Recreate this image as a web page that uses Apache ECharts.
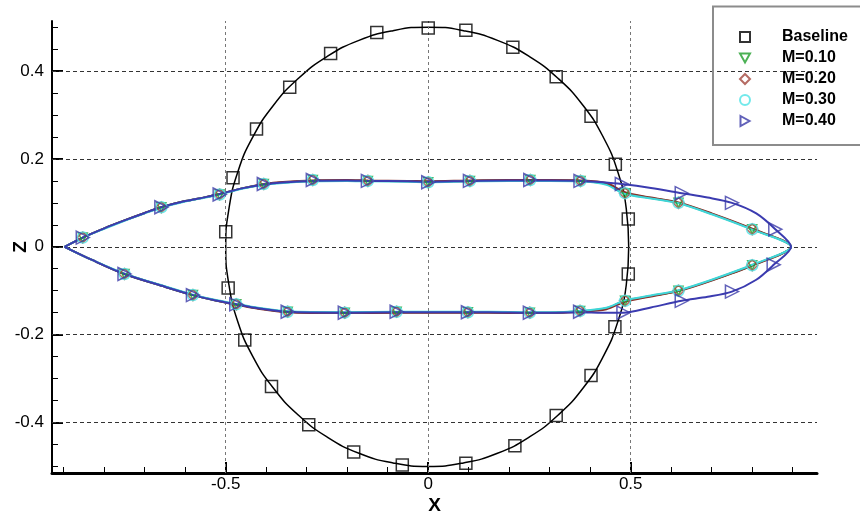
<!DOCTYPE html>
<html><head><meta charset="utf-8">
<script src="https://cdn.jsdelivr.net/npm/echarts@6/dist/echarts.min.js"></script>
<style>html,body{margin:0;padding:0;background:#fff}#c{width:860px;height:513px}</style>
</head><body><div id="c"></div>
<script>
// ---------- data ----------
const seriesNames = ['Baseline', 'M=0.10', 'M=0.20', 'M=0.30', 'M=0.40'];
const xTickLabels = [-0.5, 0, 0.5];
const zTickLabels = [-0.4, -0.2, 0, 0.2, 0.4];
const xMinorTicks = [-0.9,-0.8,-0.7,-0.6,-0.4,-0.3,-0.2,-0.1,0.1,0.2,0.3,0.4,0.6,0.7,0.8,0.9];
const zMinorTicks = [-0.5,-0.45,-0.35,-0.3,-0.25,-0.15,-0.1,-0.05,0.05,0.1,0.15,0.25,0.3,0.35,0.45,0.5];

const baselineCurve = [
  [0.495,0],[0.489,0.087],[0.468,0.171],[0.432,0.25],[0.383,0.321],[0.321,0.383],[0.25,0.433],[0.171,0.470],[0.087,0.492],
  [0,0.5],[-0.087,0.492],[-0.171,0.470],[-0.25,0.433],[-0.321,0.383],[-0.383,0.321],[-0.433,0.25],[-0.470,0.171],[-0.492,0.087],
  [-0.5,0],[-0.492,-0.087],[-0.470,-0.171],[-0.433,-0.25],[-0.383,-0.321],[-0.321,-0.383],[-0.25,-0.433],[-0.171,-0.470],[-0.087,-0.492],
  [0,-0.5],[0.087,-0.492],[0.171,-0.470],[0.25,-0.433],[0.321,-0.383],[0.383,-0.321],[0.432,-0.25],[0.468,-0.171],[0.489,-0.087],[0.495,0]
];
const baselineMarkers = [
  [0,0.498],[0.093,0.493],[0.209,0.454],[0.316,0.387],[0.402,0.297],[0.462,0.188],[0.494,0.063],[0.494,-0.062],
  [0.461,-0.182],[0.402,-0.293],[0.316,-0.384],[0.214,-0.453],[0.093,-0.493],[-0.064,-0.497],[-0.184,-0.467],
  [-0.295,-0.405],[-0.387,-0.318],[-0.453,-0.212],[-0.494,-0.094],[-0.5,0.034],[-0.482,0.157],[-0.424,0.268],
  [-0.342,0.363],[-0.241,0.440],[-0.127,0.488]
];
const m10Curve = [
  [-0.898,0],[-0.853,0.021],[-0.8,0.042],[-0.75,0.060],[-0.7,0.077],[-0.659,0.090],[-0.6,0.104],[-0.55,0.113],[-0.515,0.120],
  [-0.46,0.133],[-0.406,0.142],[-0.35,0.147],[-0.285,0.150],[-0.2,0.151],[-0.149,0.150],[-0.05,0.149],[0,0.148],[0.103,0.150],
  [0.2,0.151],[0.252,0.151],[0.3,0.151],[0.376,0.150],[0.44,0.143],[0.486,0.122],[0.55,0.111],[0.618,0.100],[0.7,0.075],
  [0.8,0.040],[0.896,0],
  [0.8,-0.042],[0.7,-0.076],[0.618,-0.100],[0.55,-0.112],[0.486,-0.123],[0.44,-0.140],[0.375,-0.147],[0.3,-0.150],[0.251,-0.150],
  [0.15,-0.149],[0.098,-0.149],[0,-0.149],[-0.078,-0.149],[-0.206,-0.150],[-0.347,-0.148],[-0.42,-0.140],[-0.474,-0.131],
  [-0.53,-0.121],[-0.581,-0.110],[-0.65,-0.091],[-0.75,-0.062],[-0.83,-0.030],[-0.898,0]
];
const m20Curve = [
  [-0.898,0],[-0.853,0.021],[-0.8,0.042],[-0.75,0.060],[-0.7,0.077],[-0.659,0.090],[-0.6,0.104],[-0.55,0.113],[-0.515,0.120],
  [-0.46,0.133],[-0.406,0.143],[-0.35,0.148],[-0.285,0.151],[-0.2,0.152],[-0.149,0.151],[-0.05,0.150],[0,0.149],[0.103,0.151],
  [0.2,0.152],[0.252,0.152],[0.3,0.152],[0.376,0.151],[0.44,0.145],[0.486,0.124],[0.55,0.112],[0.618,0.101],[0.7,0.076],
  [0.8,0.041],[0.896,0],
  [0.8,-0.043],[0.7,-0.077],[0.618,-0.101],[0.55,-0.113],[0.486,-0.125],[0.44,-0.142],[0.375,-0.148],[0.3,-0.151],[0.251,-0.151],
  [0.15,-0.150],[0.098,-0.150],[0,-0.150],[-0.078,-0.150],[-0.206,-0.151],[-0.347,-0.149],[-0.42,-0.141],[-0.474,-0.132],
  [-0.53,-0.121],[-0.581,-0.110],[-0.65,-0.091],[-0.75,-0.062],[-0.83,-0.030],[-0.898,0]
];
const m30Curve = [
  [-0.898,0],[-0.853,0.021],[-0.8,0.041],[-0.75,0.059],[-0.7,0.076],[-0.659,0.089],[-0.6,0.103],[-0.55,0.112],[-0.515,0.119],
  [-0.46,0.132],[-0.406,0.141],[-0.35,0.146],[-0.285,0.149],[-0.2,0.150],[-0.149,0.149],[-0.05,0.148],[0,0.147],[0.103,0.149],
  [0.2,0.150],[0.252,0.150],[0.3,0.150],[0.376,0.149],[0.44,0.141],[0.486,0.120],[0.55,0.110],[0.618,0.099],[0.7,0.074],
  [0.8,0.039],[0.896,0],
  [0.8,-0.041],[0.7,-0.075],[0.618,-0.099],[0.55,-0.111],[0.486,-0.122],[0.44,-0.139],[0.375,-0.146],[0.3,-0.149],[0.251,-0.149],
  [0.15,-0.148],[0.098,-0.148],[0,-0.148],[-0.078,-0.148],[-0.206,-0.149],[-0.347,-0.147],[-0.42,-0.139],[-0.474,-0.130],
  [-0.53,-0.120],[-0.581,-0.109],[-0.65,-0.090],[-0.75,-0.061],[-0.83,-0.030],[-0.898,0]
];
const m40Curve = [
  [-0.898,0],[-0.853,0.021],[-0.8,0.042],[-0.75,0.060],[-0.7,0.077],[-0.659,0.090],[-0.6,0.104],[-0.55,0.113],[-0.515,0.120],
  [-0.46,0.133],[-0.406,0.142],[-0.35,0.147],[-0.285,0.150],[-0.2,0.151],[-0.149,0.150],[-0.05,0.149],[0,0.148],[0.103,0.150],
  [0.2,0.151],[0.252,0.151],[0.3,0.151],[0.376,0.150],[0.43,0.147],[0.478,0.143],[0.55,0.134],[0.626,0.122],[0.69,0.112],
  [0.75,0.100],[0.81,0.076],[0.857,0.040],[0.896,0],
  [0.853,-0.041],[0.81,-0.075],[0.75,-0.102],[0.69,-0.114],[0.626,-0.123],[0.55,-0.138],[0.482,-0.150],[0.43,-0.150],
  [0.375,-0.149],[0.3,-0.150],[0.251,-0.150],[0.15,-0.149],[0.098,-0.149],[0,-0.149],[-0.078,-0.149],[-0.206,-0.150],
  [-0.347,-0.148],[-0.42,-0.140],[-0.474,-0.131],[-0.53,-0.121],[-0.581,-0.110],[-0.65,-0.091],[-0.75,-0.062],[-0.83,-0.030],[-0.898,0]
];
const commonMarkers = [
  [-0.853,0.021],[-0.659,0.090],[-0.515,0.119],[-0.406,0.143],[-0.285,0.152],[-0.149,0.150],[0,0.147],[0.103,0.150],
  [0.252,0.152],[0.376,0.150],[0.486,0.122],[0.618,0.100],[0.8,0.040],
  [-0.75,-0.062],[-0.581,-0.110],[-0.474,-0.131],[-0.347,-0.148],[-0.206,-0.150],[-0.078,-0.148],[0.098,-0.149],
  [0.251,-0.150],[0.375,-0.146],[0.486,-0.123],[0.618,-0.100],[0.8,-0.042]
];
const m40Markers = [
  [-0.853,0.021],[-0.659,0.090],[-0.515,0.119],[-0.406,0.143],[-0.285,0.152],[-0.149,0.150],[0,0.147],[0.103,0.150],
  [0.252,0.152],[0.376,0.150],[0.478,0.143],[0.626,0.122],[0.75,0.100],[0.857,0.040],
  [-0.75,-0.062],[-0.581,-0.110],[-0.474,-0.131],[-0.347,-0.148],[-0.206,-0.150],[-0.078,-0.148],[0.098,-0.149],
  [0.251,-0.150],[0.375,-0.148],[0.482,-0.150],[0.626,-0.123],[0.75,-0.102],[0.853,-0.041]
];

// ---------- styling ----------
const colors = ['#000000', '#1f9e2a', '#a3463c', '#4fe3e6', '#3a3aa8'];
const lineColors = ['#000000', '#1c8a26', '#8a2f28', '#3fd6d9', '#3b3bb0'];
const symbols = ['rect', 'path://M0,0L10,0L5,9Z', 'diamond', 'circle', 'path://M0,0L9,5L0,10Z'];
const symbolSizes = [12, 9, 11, 11, 13];
const curves = [baselineCurve, m10Curve, m20Curve, m30Curve, m40Curve];
const markerSets = [baselineMarkers, commonMarkers, commonMarkers, commonMarkers, m40Markers];

const XMIN = -0.929, XMAX = 0.96, ZMIN = -0.515, ZMAX = 0.514;
const labelFont = "'Liberation Sans Narrow','Liberation Sans',Arial,sans-serif";
const boldFont = "'Liberation Sans',Arial,sans-serif";

const series = [];
series.push({
  type: 'line', name: '_grid', data: [], z: 1, silent: true,
  markLine: {
    silent: true, symbol: ['none', 'none'], label: { show: false }, animation: false,
    lineStyle: { color: '#555', width: 1, type: [4, 3] },
    data: xTickLabels.map(v => ({ xAxis: v, lineStyle: { color: '#777', width: 1, type: [3, 3] } }))
      .concat(zTickLabels.map(v => ({ yAxis: v, lineStyle: { color: '#333', width: 1, type: [4, 3] } })))
  }
});
curves.forEach((c, i) => {
  series.push({
    type: 'line', name: seriesNames[i] + ' curve', data: c, smooth: i === 0 ? true : 0.3,
    showSymbol: false, silent: true, z: 2 + i,
    lineStyle: { color: lineColors[i], width: i === 0 ? 1.5 : 2 }
  });
});
markerSets.forEach((m, i) => {
  series.push({
    type: 'scatter', name: seriesNames[i], data: m, symbol: symbols[i], symbolSize: symbolSizes[i],
    silent: true, z: 10 + i,
    itemStyle: { color: 'rgba(255,255,255,0)', borderColor: colors[i], borderWidth: 1.5 }
  });
});

const chart = echarts.init(document.getElementById('c'), null, { renderer: 'canvas' });
chart.setOption({
  animation: false,
  backgroundColor: '#fff',
  grid: { left: 52, right: 43, top: 21, bottom: 40, containLabel: false, outerBoundsMode: 'none' },
  xAxis: [{
    type: 'value', min: XMIN, max: XMAX, position: 'bottom',
    name: 'X', nameLocation: 'middle', nameGap: 23, nameMoveOverlap: false,
    nameTextStyle: { fontFamily: boldFont, fontWeight: 'bold', fontSize: 19, color: '#000' },
    axisLine: { show: true, onZero: false, lineStyle: { color: '#000', width: 3 } },
    axisTick: { show: true, inside: true, length: 11, lineStyle: { color: '#000', width: 2 }, customValues: xTickLabels },
    axisLabel: { customValues: xTickLabels, fontFamily: labelFont, fontSize: 17, color: '#000', margin: 3 },
    splitLine: { show: false }
  }, {
    type: 'value', min: XMIN, max: XMAX, position: 'bottom',
    axisLine: { show: false, onZero: false },
    axisTick: { show: true, inside: true, length: 6, lineStyle: { color: '#000', width: 1 }, customValues: xMinorTicks },
    axisLabel: { show: false }, splitLine: { show: false }
  }],
  yAxis: [{
    type: 'value', min: ZMIN, max: ZMAX, position: 'left',
    name: 'Z', nameLocation: 'middle', nameGap: 22, nameRotate: 90, nameMoveOverlap: false,
    nameTextStyle: { fontFamily: boldFont, fontWeight: 'bold', fontSize: 19, color: '#000' },
    axisLine: { show: true, onZero: false, lineStyle: { color: '#000', width: 2 } },
    axisTick: { show: true, inside: true, length: 11, lineStyle: { color: '#000', width: 2 }, customValues: zTickLabels },
    axisLabel: { customValues: zTickLabels, fontFamily: labelFont, fontSize: 17, color: '#000', margin: 8 },
    splitLine: { show: false }
  }, {
    type: 'value', min: ZMIN, max: ZMAX, position: 'left',
    axisLine: { show: false, onZero: false },
    axisTick: { show: true, inside: true, length: 6, lineStyle: { color: '#000', width: 1 }, customValues: zMinorTicks },
    axisLabel: { show: false }, splitLine: { show: false }
  }],
  legend: {
    left: 713, top: 6, orient: 'vertical', selectedMode: false,
    padding: [23, 0, 0, 26], itemWidth: 10, itemHeight: 10, itemGap: 5,
    data: seriesNames,
    formatter: n => '{t|' + n + '}',
    textStyle: {
      padding: [0, 0, 0, 27],
      rich: { t: { fontFamily: boldFont, fontWeight: 'bold', fontSize: 16, color: '#000', backgroundColor: '#fff', lineHeight: 21 } }
    }
  },
  graphic: [{
    type: 'rect', z: 100, silent: true,
    shape: { x: 713, y: 6.5, width: 170, height: 138.5 },
    style: { fill: 'none', stroke: '#8c8c8c', lineWidth: 2 }
  }],
  series: series
});
</script></body></html>
